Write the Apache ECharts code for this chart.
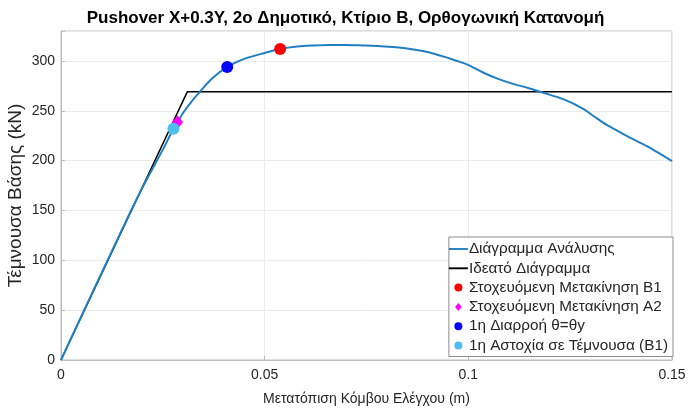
<!DOCTYPE html>
<html>
<head>
<meta charset="utf-8">
<script src="https://cdn.jsdelivr.net/npm/echarts@6/dist/echarts.min.js"></script>
<style>
  html, body { margin: 0; padding: 0; background: #ffffff; }
  #chart { width: 691px; height: 413px; }
</style>
</head>
<body>
<div id="chart"></div>
<script>
// Pushover capacity curve (analysis) with its bilinear idealisation and marked points
const analysisDisp = [0, 0.005, 0.01, 0.015, 0.02, 0.025, 0.0276, 0.0286, 0.03, 0.032, 0.0339, 0.037, 0.0408,
  0.045, 0.05, 0.0538, 0.058, 0.062, 0.066, 0.070, 0.0741, 0.0785, 0.0823, 0.0865, 0.0905, 0.0946, 0.0995,
  0.1036, 0.1070, 0.1102, 0.1145, 0.1184, 0.1233, 0.1282, 0.1310, 0.1339, 0.1370, 0.1397, 0.1438, 0.1470, 0.150];
const analysisShear = [0, 44, 87.5, 131, 173, 211, 232, 238.5, 248, 259, 268, 282, 294,
  302, 308, 312, 314.5, 315.5, 316, 316, 315.5, 314.8, 313.6, 311.5, 308.5, 303.5, 296.8,
  288.4, 282.5, 278, 273, 268, 261.6, 252, 244, 236, 229, 223, 214.6, 207, 199.5];

const idealDisp = [0, 0.031, 0.15];
const idealShear = [0, 269, 269];

const targetB1 = [0.0538, 312];
const targetA2 = [0.0286, 238.5];
const firstYield = [0.0408, 294];
const firstShearFailure = [0.0276, 232];

const xTicks = [0, 0.05, 0.1, 0.15];
const yTicks = [0, 50, 100, 150, 200, 250, 300];

const names = {
  analysis: 'Διάγραμμα Ανάλυσης',
  ideal: 'Ιδεατό Διάγραμμα',
  b1: 'Στοχευόμενη Μετακίνηση Β1',
  a2: 'Στοχευόμενη Μετακίνηση Α2',
  yield: '1η Διαρροή θ=θy',
  shear: '1η Αστοχία σε Τέμνουσα (B1)'
};

const zip = (xs, ys) => xs.map((x, i) => [x, ys[i]]);
const font = '"Liberation Sans", Arial, Helvetica, sans-serif';
const axisColor = '#bdbdbd';
const textColor = '#262626';
const lineIcon = 'path://M0,0 L20,0 L20,2 L0,2 Z';
const diamondIcon = 'path://M5,0 L10,6 L5,12 L0,6 Z';

const chart = echarts.init(document.getElementById('chart'), null, { renderer: 'canvas' });

chart.setOption({
  animation: false,
  backgroundColor: '#ffffff',
  title: {
    text: 'Pushover X+0.3Y, 2ο Δημοτικό, Κτίριο Β, Ορθογωνική Κατανομή',
    left: 'center',
    top: 5,
    textStyle: { fontFamily: font, fontSize: 17, fontWeight: 'bold', color: '#000000' }
  },
  grid: {
    left: 61, right: 19, top: 31, bottom: 53,
    outerBoundsMode: 'none',
    containLabel: false,
    show: true, borderColor: axisColor, borderWidth: 1, backgroundColor: '#ffffff'
  },
  legend: {
    orient: 'vertical',
    right: 18,
    top: 237,
    backgroundColor: '#ffffff',
    borderColor: '#8c8c8c',
    borderWidth: 1,
    borderRadius: 0,
    padding: [4, 5, 3, 0],
    itemWidth: 19,
    itemHeight: 8,
    itemGap: 3.3,
    textStyle: { fontFamily: font, fontSize: 15.3, color: textColor, lineHeight: 16, padding: [0, 0, 0, -4] },
    data: [
      { name: names.analysis, icon: lineIcon },
      { name: names.ideal, icon: lineIcon },
      { name: names.b1, icon: 'circle' },
      { name: names.a2, icon: diamondIcon },
      { name: names.yield, icon: 'circle' },
      { name: names.shear, icon: 'circle' }
    ]
  },
  xAxis: {
    type: 'value',
    min: 0, max: 0.15, interval: 0.05,
    name: 'Μετατόπιση Κόμβου Ελέγχου (m)',
    nameLocation: 'middle',
    nameGap: 32,
    nameMoveOverlap: false,
    nameTextStyle: { fontFamily: font, fontSize: 14, color: textColor },
    axisLine: { show: true, lineStyle: { color: axisColor, width: 1 } },
    axisTick: { show: true, inside: true, length: 4, lineStyle: { color: axisColor } },
    axisLabel: {
      fontFamily: font, fontSize: 14, color: textColor, margin: 8,
      formatter: v => (xTicks.some(t => Math.abs(t - v) < 1e-9) ? String(+v.toFixed(2)) : '')
    },
    splitLine: { show: true, lineStyle: { color: '#ebebeb', width: 1 } }
  },
  yAxis: {
    type: 'value',
    min: 0, max: 330, interval: 50,
    name: 'Τέμνουσα Βάσης (kN)',
    nameLocation: 'middle',
    nameGap: 36,
    nameMoveOverlap: false,
    nameTextStyle: { fontFamily: font, fontSize: 19, color: textColor },
    axisLine: { show: true, lineStyle: { color: axisColor, width: 1 } },
    axisTick: { show: true, inside: true, length: 4, lineStyle: { color: axisColor } },
    axisLabel: {
      fontFamily: font, fontSize: 14, color: textColor, margin: 6,
      formatter: v => (yTicks.includes(v) ? String(v) : '')
    },
    splitLine: { show: true, lineStyle: { color: '#ebebeb', width: 1 } }
  },
  series: [
    {
      name: names.analysis,
      type: 'line',
      data: zip(analysisDisp, analysisShear),
      smooth: 0.3,
      symbol: 'none',
      lineStyle: { color: '#1f7fc4', width: 2 },
      itemStyle: { color: '#1f7fc4' },
      z: 3
    },
    {
      name: names.ideal,
      type: 'line',
      data: zip(idealDisp, idealShear),
      symbol: 'none',
      lineStyle: { color: '#000000', width: 1.5 },
      itemStyle: { color: '#000000' },
      z: 2
    },
    {
      name: names.b1, type: 'scatter', data: [targetB1],
      symbol: 'circle', symbolSize: 12, itemStyle: { color: '#ff0000', opacity: 1 }, z: 5
    },
    {
      name: names.a2, type: 'scatter', data: [targetA2],
      symbol: 'diamond', symbolSize: [11, 14], itemStyle: { color: '#ff00ff', opacity: 1 }, z: 5
    },
    {
      name: names.yield, type: 'scatter', data: [firstYield],
      symbol: 'circle', symbolSize: 12, itemStyle: { color: '#0000ff', opacity: 1 }, z: 5
    },
    {
      name: names.shear, type: 'scatter', data: [firstShearFailure],
      symbol: 'circle', symbolSize: 12, itemStyle: { color: '#4dbeee', opacity: 1 }, z: 6
    }
  ]
});
</script>
</body>
</html>
